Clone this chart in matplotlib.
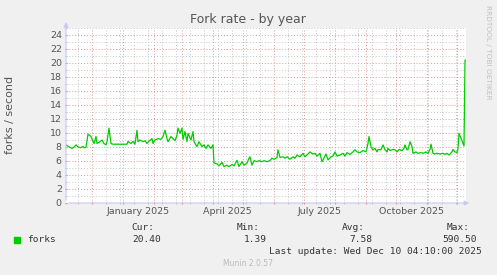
import datetime as dt
import matplotlib
matplotlib.use("Agg")
import matplotlib.pyplot as plt
import matplotlib.dates as mdates

# day offsets from the start of the graph window and fork rate values
days = [0, 4, 6, 8, 10, 12, 15, 17, 18, 20, 22, 25, 27, 28, 30, 31, 34, 36, 38, 40,
        41, 43, 45, 47, 54, 61, 62, 65, 67, 69, 71, 72, 74, 77, 79, 81, 83, 86, 87, 89,
        92, 95, 97, 99, 101, 102, 105, 107, 109, 111, 112, 114, 116, 117, 119, 121, 122, 125, 127, 128,
        131, 133, 136, 138, 140, 142, 145, 147, 148, 151, 153, 156, 158, 161, 163, 166, 168, 171, 173, 176,
        178, 181, 183, 184, 186, 188, 191, 193, 196, 198, 201, 204, 206, 208, 211, 212, 214, 217, 219, 221,
        224, 227, 229, 231, 234, 237, 239, 241, 244, 247, 249, 251, 254, 256, 258, 260, 262, 265, 267, 269,
        271, 274, 277, 279, 281, 284, 287, 289, 291, 294, 297, 300, 302, 303, 305, 307, 309, 311, 312, 315,
        317, 319, 321, 322, 324, 327, 329, 331, 333, 336, 338, 339, 341, 342, 344, 346, 347, 350, 352, 355,
        357, 360, 362, 364, 365, 367, 369, 371, 374, 377, 379, 381, 383, 386, 387, 389, 391, 392, 393, 395,
        397, 398, 399, 400]
forks = [8.3, 7.95, 7.8, 8.0, 8.3, 8.0, 7.9, 8.1, 7.9, 7.95, 9.85, 9.5, 8.8, 8.5, 9.5, 8.5, 8.75, 9.0, 8.5, 8.3,
         8.75, 10.7, 8.5, 8.4, 8.4, 8.4, 8.8, 8.5, 8.8, 8.4, 10.4, 8.75, 9.0, 8.75, 8.9, 8.5, 8.85, 9.2, 8.5, 9.0,
         9.2, 9.1, 9.5, 10.4, 9.2, 8.75, 9.5, 9.2, 8.9, 9.7, 10.7, 9.95, 10.7, 9.1, 10.2, 8.75, 9.95, 9.0, 10.2, 8.75,
         8.05, 8.75, 8.05, 8.3, 7.8, 8.3, 7.8, 8.3, 5.7, 5.6, 5.3, 5.8, 5.2, 5.4, 5.2, 5.5, 5.3, 6.1, 5.2, 5.9,
         5.4, 5.7, 6.4, 6.6, 5.4, 6.05, 5.9, 6.05, 5.9, 6.05, 5.9, 6.05, 6.4, 6.25, 6.5, 7.6, 6.5, 6.6, 6.4, 6.6,
         6.25, 6.6, 6.4, 6.85, 6.6, 7.1, 6.6, 6.85, 7.3, 7.0, 7.1, 6.7, 7.1, 5.9, 6.4, 7.0, 6.15, 6.6, 6.7, 7.3,
         6.7, 6.85, 7.1, 6.7, 7.2, 6.95, 7.3, 7.6, 7.3, 7.2, 7.5, 7.3, 8.5, 9.5, 8.05, 7.6, 7.8, 7.3, 7.65, 7.6,
         8.3, 7.6, 7.3, 7.8, 7.5, 7.65, 7.6, 7.3, 7.65, 7.5, 7.8, 8.3, 7.6, 7.65, 8.75, 8.05, 7.1, 7.3, 7.1, 7.2,
         7.1, 7.3, 7.1, 7.65, 8.4, 7.1, 7.0, 7.1, 7.0, 7.1, 6.95, 7.1, 6.85, 7.3, 7.65, 7.3, 7.2, 7.8, 9.95, 9.25,
         8.5, 8.15, 20.4, 20.4]

legend_heads = ["Cur:", "Min:", "Avg:", "Max:"]
legend_vals = ["20.40", "1.39", "7.58", "590.50"]
month_labels = ["January 2025", "April 2025", "July 2025", "October 2025"]

end = dt.datetime(2025, 12, 10, 4, 10)
start = end - dt.timedelta(days=400)
times = [start + dt.timedelta(days=d) for d in days]

txt = "#555555"
fig = plt.figure(figsize=(4.97, 2.75), dpi=100, facecolor="#F0F0F0")
ax = fig.add_axes([66 / 497, 1 - 203 / 275, 400 / 497, 175 / 275])
ax.set_facecolor("white")

ax.plot(times, forks, color="#00CC00", lw=0.9, zorder=3, clip_on=True)

ax.set_xlim(start, end)
ax.set_ylim(0, 25)

# grid: months red, fortnights gray
month_starts = [dt.datetime(2024, 12, 1)] + [dt.datetime(2025, m, 1) for m in range(1, 13)]
fortnights = [dt.datetime(2024, 11, 17) + dt.timedelta(days=14 * i) for i in range(28)]
fortnights = [f for f in fortnights if f < end]
ax.set_xticks(month_starts)
ax.set_xticks(fortnights, minor=True)
ax.set_xticklabels([])
ax.set_yticks(range(0, 25, 2))
ax.set_yticks(range(0, 26), minor=True)
ax.grid(which="minor", color="#C8C8C8", linestyle=(0, (1, 2)), lw=0.7)
ax.grid(which="major", color="#E09898", linestyle=(0, (1, 2)), lw=0.7)
ax.set_axisbelow(True)
ax.tick_params(which="major", length=2, color="#E08080", labelsize=6.8,
               labelcolor=txt, pad=2, direction="inout")
ax.tick_params(which="minor", length=1.5, color="#BBBBBB", direction="inout")
for s in ax.spines.values():
    s.set_visible(False)

# axis lines with arrows
ax.annotate("", xy=(0, 1.05), xytext=(0, 0), xycoords="axes fraction",
            arrowprops=dict(arrowstyle="-|>", color="#C8C8F8", lw=0.8, mutation_scale=7))
ax.annotate("", xy=(1.015, 0), xytext=(0, 0), xycoords="axes fraction",
            arrowprops=dict(arrowstyle="-|>", color="#C8C8F8", lw=0.8, mutation_scale=7))

for m, label in zip([1, 4, 7, 10], month_labels):
    a = dt.datetime(2025, m, 1)
    b = dt.datetime(2025, m + 1, 1)
    ax.text(a + (b - a) / 2, -0.05, label, transform=ax.get_xaxis_transform(),
            ha="center", va="center", fontsize=6.8, color=txt)

fig.text(190 / 497, 1 - 19 / 275, "Fork rate - by year", fontsize=9, color=txt,
         ha="left", va="center")
fig.text(10 / 497, 1 - 115 / 275, "forks / second", rotation=90, fontsize=8,
         color=txt, ha="center", va="center")
fig.text(488 / 497, 1 - 5 / 275, "RRDTOOL / TOBI OETIKER", rotation=270, fontsize=5.3,
         color="#C0C0C0", ha="center", va="top")

mono = "DejaVu Sans Mono"
fig.patches.append(plt.Rectangle((14 / 497, 1 - 243 / 275), 6 / 497, 6 / 275,
                                 transform=fig.transFigure, color="#00CC00"))
fig.text(27 / 497, 1 - 240 / 275, "forks", family=mono, fontsize=6.8, color="#333333",
         ha="left", va="center")
head_right = [154, 260, 365, 470]
val_right = [161, 267, 372, 477]
for h, v, hx, vx in zip(legend_heads, legend_vals, head_right, val_right):
    fig.text(hx / 497, 1 - 228 / 275, h, family=mono, fontsize=6.8, color="#333333",
             ha="right", va="center")
    fig.text(vx / 497, 1 - 240 / 275, v, family=mono, fontsize=6.8, color="#333333",
             ha="right", va="center")
fig.text(482 / 497, 1 - 252 / 275, "Last update: Wed Dec 10 04:10:00 2025", family=mono,
         fontsize=6.8, color="#333333", ha="right", va="center")
fig.text(248 / 497, 1 - 263 / 275, "Munin 2.0.57", fontsize=5.5, color="#BBBBBB",
         ha="center", va="center")

fig.savefig("out.png", dpi=100, facecolor=fig.get_facecolor())
